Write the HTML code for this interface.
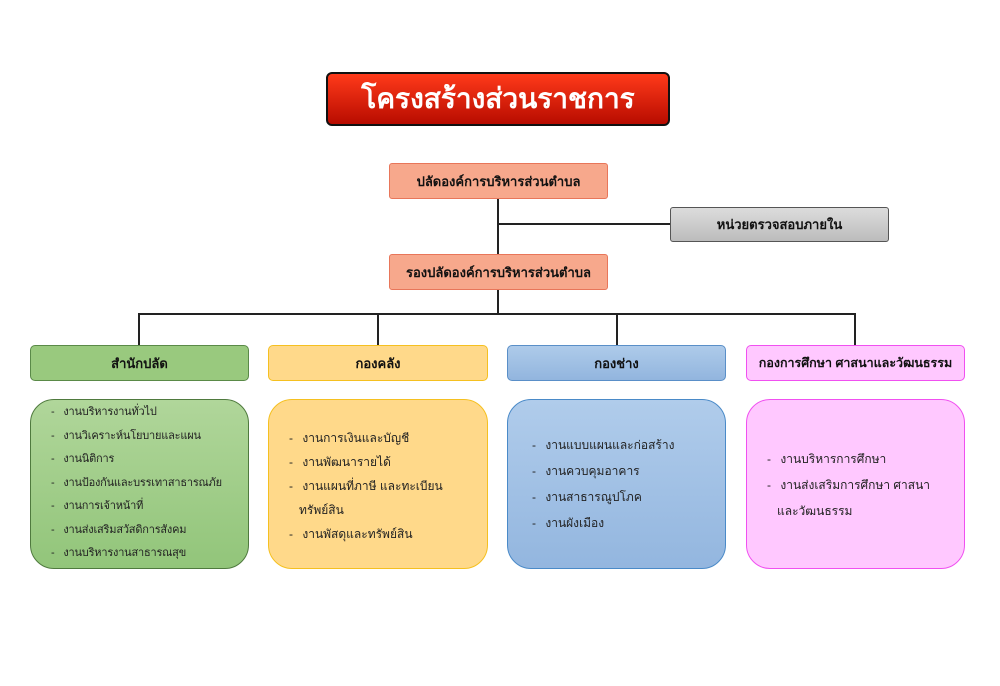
<!DOCTYPE html><html><head><meta charset="utf-8"><style>
body{margin:0;width:1000px;height:686px;background:#fff;position:relative;overflow:hidden;font-family:"Liberation Sans","DejaVu Sans","Noto Sans CJK SC",sans-serif;}
.a{position:absolute;box-sizing:border-box;}
.c{display:flex;align-items:center;justify-content:center;font-weight:bold;font-size:13px;color:#111;white-space:nowrap;}
.l{position:absolute;background:#222;}
ul{list-style:none;margin:0;padding:0;font-size:12px;color:#222;line-height:24px;white-space:nowrap;}
ul li:before{content:"- ";margin-right:6px}
</style></head><body>
<div class="a c" style="left:326px;top:72px;width:344px;height:54px;border:2px solid #111;border-radius:6px;background:linear-gradient(#ff3a1a,#b80c00);color:#fff;font-size:28px;">โครงสร้างส่วนราชการ</div>
<div class="l" style="left:497px;top:199px;width:2px;height:55px"></div>
<div class="l" style="left:498px;top:223px;width:172px;height:2px"></div>
<div class="l" style="left:497px;top:290px;width:2px;height:25px"></div>
<div class="l" style="left:138px;top:313px;width:718px;height:2px"></div>
<div class="l" style="left:138px;top:313px;width:2px;height:32px"></div>
<div class="l" style="left:377px;top:313px;width:2px;height:32px"></div>
<div class="l" style="left:616px;top:313px;width:2px;height:32px"></div>
<div class="l" style="left:854px;top:313px;width:2px;height:32px"></div>
<div class="a c" style="left:389px;top:163px;width:219px;height:36px;background:#f7a88c;border:1.5px solid #e8765a;border-radius:3px;">ปลัดองค์การบริหารส่วนตำบล</div>
<div class="a c" style="left:389px;top:254px;width:219px;height:36px;background:#f7a88c;border:1.5px solid #e8765a;border-radius:3px;">รองปลัดองค์การบริหารส่วนตำบล</div>
<div class="a c" style="left:670px;top:207px;width:219px;height:35px;background:linear-gradient(#dcdcdc,#bcbcbc);border:1.5px solid #555;border-radius:3px;">หน่วยตรวจสอบภายใน</div>
<div class="a c" style="left:30px;top:345px;width:219px;height:36px;background:#99c97e;border:1.5px solid #5a8a48;border-radius:5px;">สำนักปลัด</div>
<div class="a c" style="left:268px;top:345px;width:220px;height:36px;background:#ffd98a;border:1.5px solid #f5c020;border-radius:5px;">กองคลัง</div>
<div class="a c" style="left:507px;top:345px;width:219px;height:36px;background:linear-gradient(#aecbea,#92b5de);border:1.5px solid #5a8fc8;border-radius:5px;">กองช่าง</div>
<div class="a c" style="left:746px;top:345px;width:219px;height:36px;background:#ffc8ff;border:1.5px solid #f050f0;border-radius:5px;font-size:12.5px;">กองการศึกษา ศาสนาและวัฒนธรรม</div>
<div class="a" style="left:30px;top:399px;width:219px;height:170px;background:linear-gradient(#b0d69a,#92c57a);border:1.5px solid #4f7a3e;border-radius:24px;padding:1px 0 0 20px;overflow:hidden;"><ul style="font-size:11px;line-height:23.5px;letter-spacing:-0.2px"><li>งานบริหารงานทั่วไป</li><li>งานวิเคราะห์นโยบายและแผน</li><li>งานนิติการ</li><li>งานป้องกันและบรรเทาสาธารณภัย</li><li>งานการเจ้าหน้าที่</li><li>งานส่งเสริมสวัสดิการสังคม</li><li>งานบริหารงานสาธารณสุข</li></ul></div>
<div class="a" style="left:268px;top:399px;width:220px;height:170px;background:#ffd98a;border:1.5px solid #f5c020;border-radius:24px;padding:26px 8px 0 20px;"><ul><li>งานการเงินและบัญชี</li><li>งานพัฒนารายได้</li><li>งานแผนที่ภาษี และทะเบียน<br>&nbsp;&nbsp;&nbsp;ทรัพย์สิน</li><li>งานพัสดุและทรัพย์สิน</li></ul></div>
<div class="a" style="left:507px;top:399px;width:219px;height:170px;background:linear-gradient(#b0cceb,#93b6df);border:1.5px solid #4a8ac8;border-radius:24px;padding:32px 0 0 24px;"><ul style="line-height:26px"><li>งานแบบแผนและก่อสร้าง</li><li>งานควบคุมอาคาร</li><li>งานสาธารณูปโภค</li><li>งานผังเมือง</li></ul></div>
<div class="a" style="left:746px;top:399px;width:219px;height:170px;background:#ffc8ff;border:1.5px solid #f050f0;border-radius:24px;padding:46px 6px 0 20px;"><ul style="line-height:26px"><li>งานบริหารการศึกษา</li><li>งานส่งเสริมการศึกษา ศาสนา<br>&nbsp;&nbsp;&nbsp;และวัฒนธรรม</li></ul></div>
</body></html>
